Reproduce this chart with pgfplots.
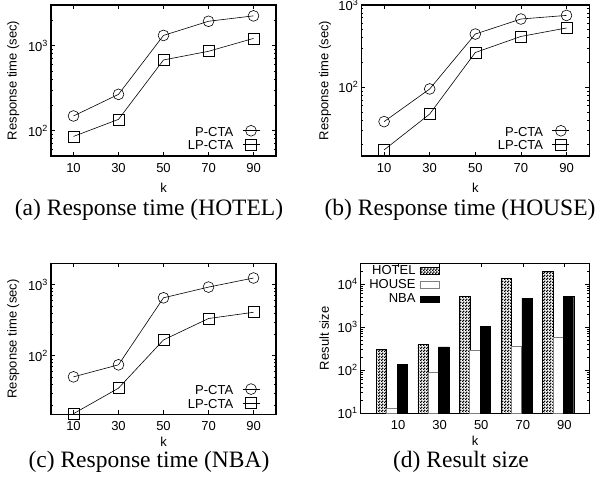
\documentclass[border=0pt]{standalone}
\usepackage{fontspec}
\setmainfont{Liberation Sans}
\newfontfamily\capfont{Liberation Serif}
\usepackage{pgfplots}
\pgfplotsset{compat=1.18}
\usetikzlibrary{patterns}
\pgfdeclarepatternformonly{checker}{\pgfpointorigin}{\pgfqpoint{3bp}{3bp}}{\pgfqpoint{3bp}{3bp}}{%
  \pgfpathrectangle{\pgfpointorigin}{\pgfqpoint{1.7bp}{1.7bp}}%
  \pgfpathrectangle{\pgfqpoint{1.5bp}{1.5bp}}{\pgfqpoint{1.7bp}{1.7bp}}%
  \pgfusepath{fill}}
\newcommand\sfs{\fontsize{13bp}{15bp}\selectfont}
\newcommand\tp[1]{10\raisebox{5bp}{\fontsize{9bp}{10bp}\selectfont #1}}
\newcommand\capf{\capfont\fontsize{23.5bp}{26bp}\selectfont}
\pgfplotsset{
  every axis/.append style={
    scale only axis,
    axis line style={line width=1.3pt},
    major tick length=4bp, minor tick length=2bp,
    tick align=inside,
    tick label style={font=\sfs},
    label style={font=\sfs},
    tick style={black, line width=0.6pt},
    xticklabel style={yshift=-3.5bp},
    xlabel style={inner sep=0pt},
    /pgf/number format/assume math mode=true,
  },
}
\begin{document}
\begin{tikzpicture}
\path[use as bounding box] (0bp,0bp) rectangle (596bp,-493bp);

% (a) HOTEL
\begin{axis}[at={(51bp,-5bp)}, anchor=north west, width=225bp, height=151bp,
  ymode=log, ymin=50, ymax=3000,
  xmin=0, xmax=100, xtick={10,30,50,70,90}, xticklabels={10,30,50,70,90},
  ytick={100,1000}, yticklabels={\tp{2},\tp{3}},
  minor ytick={20,30,40,50,60,70,80,90,200,300,400,500,600,700,800,900,2000,3000},
  xlabel={k}, ylabel={Response time (sec)},
  xlabel style={at={(axis description cs:0.5,-0.212)}, anchor=center},
  ylabel style={at={(axis description cs:-0.1676,0.5)}, anchor=center},
  legend plot pos=right, legend cell align=right,
  legend style={draw=none, fill=none, inner sep=0pt, font=\sfs, column sep=8bp,
     nodes={inner sep=1bp, text height=8.5bp, text depth=2bp}, anchor=south east, at={(0.929,0.02)}},
  legend image code/.code={\draw[#1,mark repeat=2,mark phase=2,yshift=2bp] plot coordinates {(0bp,0bp) (8.5bp,0bp) (17bp,0bp)};},
]
\addplot[black, line width=0.6pt, mark=o, mark size=5.4bp] coordinates {(10,148) (30,266) (50,1315) (70,1930) (90,2235)};
\addlegendentry{P-CTA}
\addplot[black, line width=0.6pt, mark=square, mark size=5.5bp] coordinates {(10,85) (30,135) (50,676) (70,855) (90,1212)};
\addlegendentry{LP-CTA}
\end{axis}

% (b) HOUSE
\begin{axis}[at={(361.3bp,-5bp)}, anchor=north west, width=228bp, height=151bp,
  ymode=log, ymin=14.5, ymax=1000,
  xmin=0, xmax=100, xtick={10,30,50,70,90}, xticklabels={10,30,50,70,90},
  ytick={100,1000}, yticklabels={\tp{2},\tp{3}},
  minor ytick={20,30,40,50,60,70,80,90,200,300,400,500,600,700,800,900},
  xlabel={k}, ylabel={Response time (sec)},
  xlabel style={at={(axis description cs:0.5,-0.212)}, anchor=center},
  ylabel style={at={(axis description cs:-0.159,0.5)}, anchor=center},
  legend plot pos=right, legend cell align=right,
  legend style={draw=none, fill=none, inner sep=0pt, font=\sfs, column sep=8bp,
     nodes={inner sep=1bp, text height=8.5bp, text depth=2bp}, anchor=south east, at={(0.915,0.02)}},
  legend image code/.code={\draw[#1,mark repeat=2,mark phase=2,yshift=2bp] plot coordinates {(0bp,0bp) (8.5bp,0bp) (17bp,0bp)};},
]
\addplot[black, line width=0.6pt, mark=o, mark size=5.4bp] coordinates {(10,38) (30,95) (50,443) (70,675) (90,747)};
\addlegendentry{P-CTA}
\addplot[black, line width=0.6pt, mark=square, mark size=5.5bp] coordinates {(10,17.2) (30,47) (50,264) (70,414) (90,525)};
\addlegendentry{LP-CTA}
\end{axis}

% (c) NBA
\begin{axis}[at={(51bp,-263.3bp)}, anchor=north west, width=225bp, height=151bp,
  ymode=log, ymin=15, ymax=2000,
  xmin=0, xmax=100, xtick={10,30,50,70,90}, xticklabels={10,30,50,70,90},
  ytick={100,1000}, yticklabels={\tp{2},\tp{3}},
  minor ytick={20,30,40,50,60,70,80,90,200,300,400,500,600,700,800,900,2000},
  xlabel={k}, ylabel={Response time (sec)},
  xlabel style={at={(axis description cs:0.5,-0.185)}, anchor=center},
  ylabel style={at={(axis description cs:-0.1676,0.5)}, anchor=center},
  legend plot pos=right, legend cell align=right,
  legend style={draw=none, fill=none, inner sep=0pt, font=\sfs, column sep=8bp,
     nodes={inner sep=1bp, text height=8.5bp, text depth=2bp}, anchor=south east, at={(0.929,0.02)}},
  legend image code/.code={\draw[#1,mark repeat=2,mark phase=2,yshift=2bp] plot coordinates {(0bp,0bp) (8.5bp,0bp) (17bp,0bp)};},
]
\addplot[black, line width=0.6pt, mark=o, mark size=5.4bp] coordinates {(10,50.5) (30,74.6) (50,654) (70,925) (90,1242)};
\addlegendentry{P-CTA}
\addplot[black, line width=0.6pt, mark=square, mark size=5.5bp] coordinates {(10,15.3) (30,35) (50,167) (70,334) (90,409)};
\addlegendentry{LP-CTA}
\end{axis}

% (d) Result size
\begin{axis}[at={(360.7bp,-263.3bp)}, anchor=north west, width=228.6bp, height=150bp,
  ymode=log, ymin=10, ymax=30000, xmin=-0.75, xmax=4.75,
  xtick={0.15,1.15,2.15,3.15,4.15}, xticklabels={10,30,50,70,90},
  ytick={10,100,1000,10000}, yticklabels={\tp{1},\tp{2},\tp{3},\tp{4}},
  minor ytick={20,30,40,50,60,70,80,90,200,300,400,500,600,700,800,900,2000,3000,4000,5000,6000,7000,8000,9000,20000,30000},
  xlabel={k}, ylabel={Result size},
  xlabel style={at={(axis description cs:0.5,-0.185)}, anchor=center},
  ylabel style={at={(axis description cs:-0.16,0.5)}, anchor=center},
  log origin y=infty,
  legend plot pos=right, legend cell align=right,
  legend style={draw=none, fill=none, inner sep=0pt, font=\sfs, column sep=3bp,
      nodes={inner sep=1bp, text height=9.5bp, text depth=2.7bp}, at={(0.347,1)}, anchor=north east},
  legend image code/.code={\draw[#1] (0bp,-3.2bp) rectangle (19.5bp,3.2bp);},
]
\addplot[ybar, bar shift=0pt, bar width=0.25, draw=black, line width=0.6pt, pattern=checker, pattern color=black]
  coordinates {(-0.25,301) (0.75,393) (1.75,5200) (2.75,13800) (3.75,19300)};
\addlegendentry{HOTEL}
\addplot[ybar, bar shift=0pt, bar width=0.25, draw=gray, fill=white, line width=0.8pt]
  coordinates {(0,12.8) (1,88.5) (2,290) (3,358) (4,578)};
\addlegendentry{HOUSE}
\addplot[ybar, bar shift=0pt, bar width=0.25, draw=black, fill=black]
  coordinates {(0.25,135) (1.25,345) (2.25,1020) (3.25,4600) (4.25,5120)};
\addlegendentry{NBA}
\end{axis}

\node[anchor=base, inner sep=0pt, font=\capf] at (149bp,-215bp) {(a) Response time (HOTEL)};
\node[anchor=base, inner sep=0pt, font=\capf] at (460bp,-215bp) {(b) Response time (HOUSE)};
\node[anchor=base, inner sep=0pt, font=\capf] at (149bp,-467bp) {(c) Response time (NBA)};
\node[anchor=base, inner sep=0pt, font=\capf] at (461bp,-467bp) {(d) Result size};
\end{tikzpicture}
\end{document}
